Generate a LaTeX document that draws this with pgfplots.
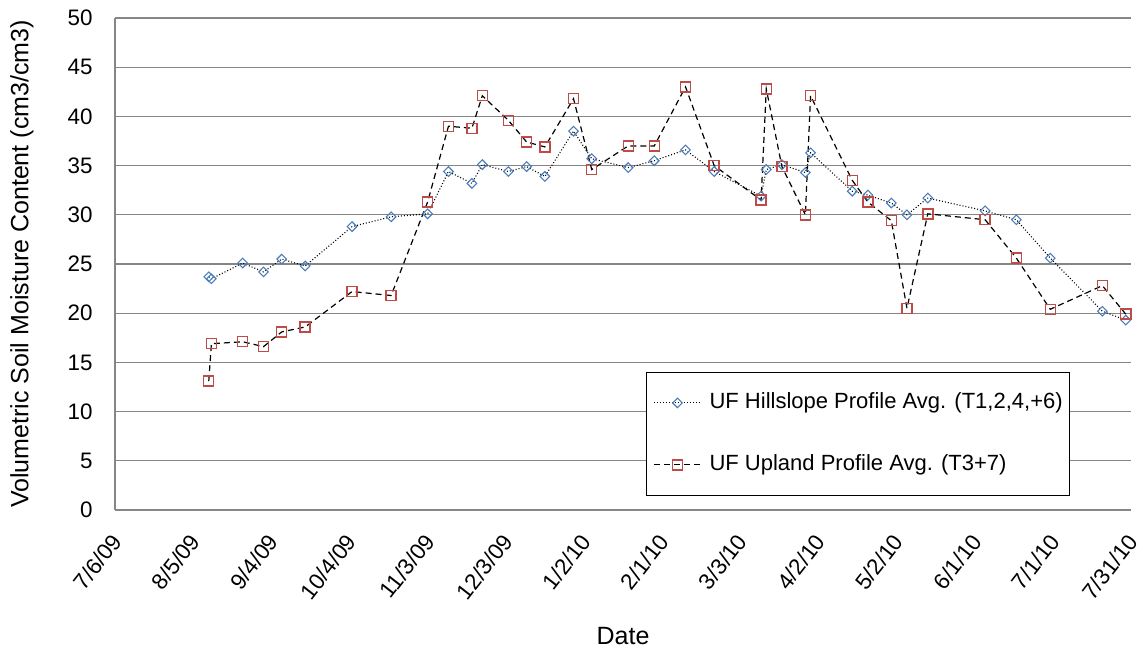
\documentclass[border=0pt]{standalone}
\usepackage{fontspec}
\setmainfont{Liberation Sans}
\usepackage{pgfplots}
\pgfplotsset{compat=1.18}
\definecolor{hillblue}{RGB}{74,126,187}
\definecolor{uplandred}{RGB}{190,75,72}
\definecolor{gridgray}{RGB}{134,134,134}
\begin{document}
\fontsize{11pt}{13pt}\selectfont
\begin{tikzpicture}
\begin{axis}[
  scale only axis,
  width=508pt, height=246pt,
  xmin=0, xmax=390, ymin=0, ymax=50,
  xtick={0,30,...,390},
  xticklabels={7/6/09,8/5/09,9/4/09,10/4/09,11/3/09,12/3/09,1/2/10,2/1/10,3/3/10,4/2/10,5/2/10,6/1/10,7/1/10,7/31/10},
  ytick={0,5,...,50},
  /pgf/number format/assume math mode=true,
  major tick length=0pt,
  axis x line*=bottom, axis y line*=left,
  axis line style={draw=gridgray, line width=0.6pt},
  ymajorgrids,
  major grid style={draw=gridgray, line width=0.6pt},
  tick label style={font=\fontsize{11.2pt}{13pt}\selectfont, inner sep=0pt},
  yticklabel style={anchor=east, xshift=-11pt},
  xticklabel style={xshift=1pt, yshift=-13.5pt, rotate=52, anchor=east},
  xlabel={Date},
  ylabel={Volumetric Soil Moisture Content (cm3/cm3)},
  label style={font=\fontsize{12.5pt}{15pt}\selectfont},
  xlabel style={at={(axis description cs:0.5,0)}, anchor=center, yshift=-63pt},
  ylabel style={at={(axis description cs:0,0.5)}, anchor=center, yshift=46.5pt},
  legend cell align=left,
  legend image code/.code={\draw[mark repeat=2,mark phase=2,#1] plot coordinates {(0pt,0pt) (11.75pt,0pt) (23.5pt,0pt)};},
  legend style={at={(axis description cs:0.5224,0.0285)}, anchor=south west,
    draw=black, line width=0.6pt, fill=white,
    inner xsep=3.5pt, inner ysep=10pt, row sep=20.5pt, column sep=4pt,
    font=\fontsize{11pt}{13pt}\selectfont,
    nodes={inner sep=0pt, text height=8pt, text depth=2.5pt}},
]
\addplot[black, line width=0.55pt, dash pattern=on 0.5pt off 1pt,
  mark=square, mark size=1.7pt,
  mark options={solid, draw=hillblue, line width=0.55pt, rotate=45}]
  table {
x y
36 23.7
37 23.5
49 25.1
57 24.2
64 25.5
73 24.8
91 28.8
106 29.8
120 30.1
128 34.4
137 33.2
141 35.1
151 34.4
158 34.9
165 33.9
176 38.5
183 35.7
197 34.8
207 35.5
219 36.6
230 34.4
248 31.9
250 34.6
256 35.1
265 34.3
267 36.3
283 32.4
289 32.0
298 31.2
304 30.0
312 31.7
334 30.4
346 29.5
359 25.6
379 20.2
388 19.3
};
\addlegendentry{UF Hillslope Profile Avg. (T1,2,4,+6)}
\addplot[black, line width=0.6pt, dash pattern=on 3pt off 2pt,
  mark=square, mark size=2.5pt,
  mark options={solid, draw=uplandred, line width=0.7pt}]
  table {
x y
36 13.1
37 16.9
49 17.1
57 16.6
64 18.1
73 18.6
91 22.2
106 21.8
120 31.3
128 39.0
137 38.8
141 42.1
151 39.6
158 37.4
165 36.9
176 41.8
183 34.6
197 37.0
207 37.0
219 43.0
230 35.0
248 31.5
250 42.8
256 34.9
265 30.0
267 42.1
283 33.5
289 31.3
298 29.4
304 20.5
312 30.1
334 29.5
346 25.6
359 20.4
379 22.8
388 19.9
};
\addlegendentry{UF Upland Profile Avg. (T3+7)}
\end{axis}
\pgfresetboundingbox
\path[shift={(current axis.south west)}] (-57.5pt,-72pt) rectangle (514pt,255pt);
\end{tikzpicture}
\end{document}
